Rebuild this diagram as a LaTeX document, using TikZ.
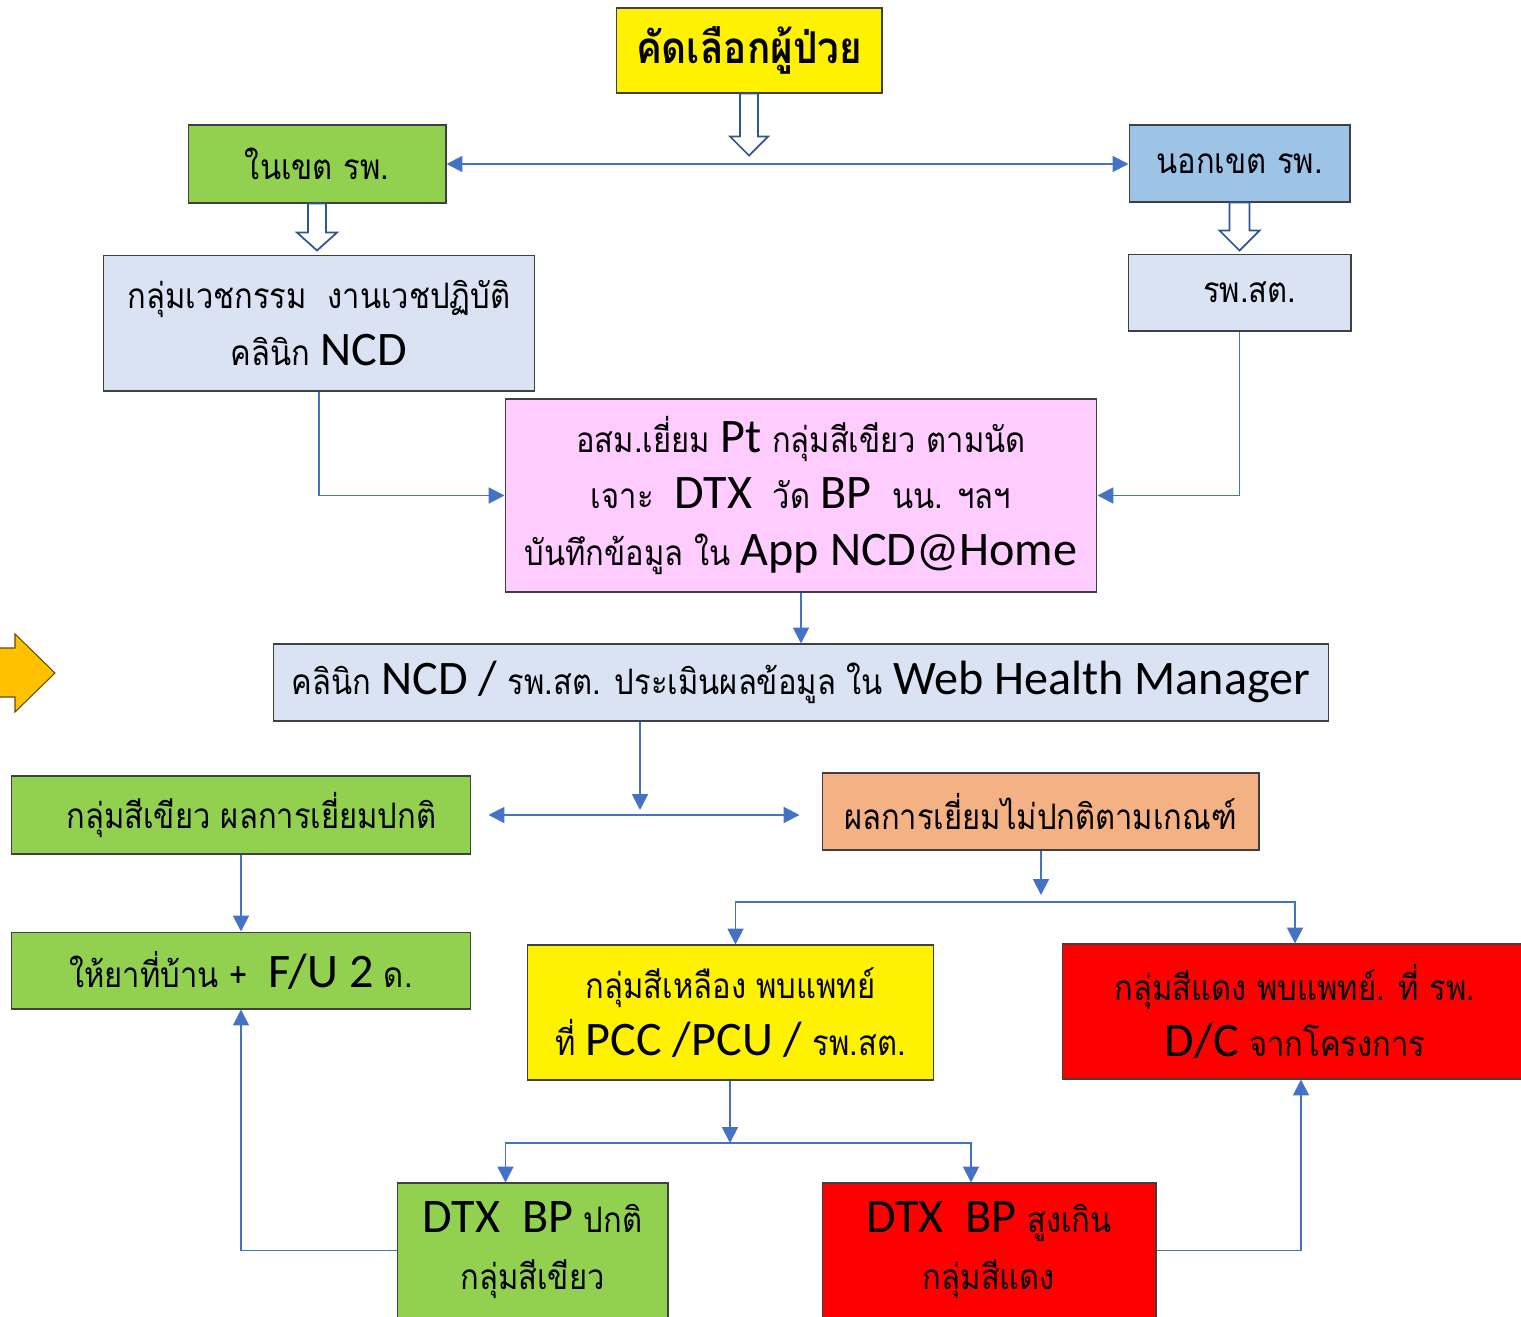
\documentclass[tikz,border=0pt]{standalone}
\usepackage{fontspec}
\setmainfont{Carlito}
\newfontfamily\thaifont[Script=Thai, FakeStretch=0.88]{Loma}
\usetikzlibrary{shapes, arrows.meta, positioning, calc}

\definecolor{cgreen}{HTML}{92D050}
\definecolor{csky}{HTML}{9DC3E6}
\definecolor{cpale}{HTML}{DAE3F3}
\definecolor{cpink}{HTML}{FFCCFF}
\definecolor{corange}{HTML}{F4B183}
\definecolor{cblue}{HTML}{4472C4}
\definecolor{cdblue}{HTML}{2F5597}
\definecolor{cgold}{HTML}{FFC000}

\newcommand\lat[1]{{\normalfont\fontsize{27.4}{32}\selectfont #1}}

\begin{document}
\begin{tikzpicture}[
    x=0.02cm, y=-0.02cm,
    box/.style={rectangle, draw=black!75, line width=0.6pt, align=center, inner sep=0pt, font=\thaifont\fontsize{20}{32.3}\selectfont},
    titlebox/.style={box, fill=yellow, font=\thaifont\bfseries\fontsize{25}{34}\selectfont},
    greenbox/.style={box, fill=cgreen},
    skybox/.style={box, fill=csky},
    palebox/.style={box, fill=cpale},
    pinkbox/.style={box, fill=cpink},
    orangebox/.style={box, fill=corange},
    yellowbox/.style={box, fill=yellow},
    redbox/.style={box, fill=red},
    arr/.style={draw=cblue, line width=1.1pt, -{Triangle[length=9pt,width=9pt]}},
    hollow/.style={draw=cdblue, line width=1pt, fill=white}
]
\useasboundingbox (0,0) rectangle (1521,1317);
\clip (0,0) rectangle (1521,1317);

% Top
\node[titlebox, minimum width=5.32cm, minimum height=1.7cm] (pick) at (749,50.5) {คัดเลือกผู้ป่วย};

% Level 1
\node[greenbox, minimum width=5.16cm, minimum height=1.56cm] (inzone) at (317,164) {ในเขต รพ.};
\node[skybox, minimum width=4.42cm, minimum height=1.54cm] (outzone) at (1239.5,163.5) {นอกเขต รพ.};

% Level 2
\node[palebox, minimum width=8.64cm, minimum height=2.72cm, below=1.02cm of inzone, xshift=0.04cm] (clinic) {กลุ่มเวชกรรม\ \ งานเวชปฏิบัติ\\คลินิก \lat{NCD}};
\node[palebox, minimum width=4.46cm, minimum height=1.54cm, below=1.02cm of outzone] (hosp) {\ \ รพ.สต.};

% Home visit
\node[pinkbox, minimum width=11.84cm, minimum height=3.86cm] (visit) at (801,495.5) {อสม.เยี่ยม \lat{Pt} กลุ่มสีเขียว ตามนัด\\เจาะ\ \ \lat{DTX}\ \ วัด \lat{BP}\ \ นน. ฯลฯ\\บันทึกข้อมูล ใน \lat{App NCD@Home}};
\node[palebox, minimum width=21.1cm, minimum height=1.54cm, below=1.02cm of visit] (assess) {คลินิก \lat{NCD /} รพ.สต. ประเมินผลข้อมูล ใน \lat{Web Health Manager}};

% Results
\node[greenbox, minimum width=9.2cm, minimum height=1.56cm] (normal) at (241,815) {\ \ กลุ่มสีเขียว ผลการเยี่ยมปกติ};
\node[orangebox, minimum width=8.74cm, minimum height=1.54cm] (abnormal) at (1040.5,811.5) {ผลการเยี่ยมไม่ปกติตามเกณฑ์};
\node[greenbox, minimum width=9.2cm, minimum height=1.54cm, below=1.54cm of normal] (home) {ให้ยาที่บ้าน +\ \ \lat{F/U 2} ด.};

% Groups
\node[yellowbox, minimum width=8.14cm, minimum height=2.7cm] (yellowgrp) at (730.5,1012.5) {กลุ่มสีเหลือง พบแพทย์\\ที่ \lat{PCC /PCU /} รพ.สต.};
\node[redbox, minimum width=9.32cm, minimum height=2.7cm] (redgrp) at (1295,1011.5) {กลุ่มสีแดง พบแพทย์. ที่ รพ.\\\lat{D/C} จากโครงการ};
\node[greenbox, minimum width=5.42cm, minimum height=2.7cm] (okgrp) at (532.5,1250.5) {\lat{DTX\ \ BP} ปกติ\\กลุ่มสีเขียว};
\node[redbox, minimum width=6.68cm, minimum height=2.7cm] (highgrp) at (989,1250.5) {\lat{DTX\ \ BP} สูงเกิน\\กลุ่มสีแดง};

% Forks
\coordinate (fork1) at (640,815);
\coordinate (fork2) at (1041,902);
\coordinate (fork3) at (730,1143);

% Side arrow
\draw[draw=black!60!cgold, fill=cgold, line width=0.6pt] (-5,648) -- (15,648) -- (15,634) -- (55,673) -- (15,712) -- (15,697) -- (-5,697) -- cycle;

% Draw lines
\draw[hollow] ($(pick.south)+(-9,0)$) -- ++(0,43) -- ++(-10,0) -- ++(19,19) -- ++(19,-19) -- ++(-10,0) -- ++(0,-43) -- cycle;
\draw[arr, {Triangle[length=9pt,width=9pt]}-{Triangle[length=9pt,width=9pt]}] (inzone.east) -- (outzone.west |- inzone.east);
\draw[hollow] ($(inzone.south)+(-9,0)$) -- ++(0,29) -- ++(-11,0) -- ++(20,18) -- ++(20,-18) -- ++(-11,0) -- ++(0,-29) -- cycle;
\draw[hollow] ($(outzone.south)+(-10,0)$) -- ++(0,28) -- ++(-10,0) -- ++(20,20) -- ++(20,-20) -- ++(-10,0) -- ++(0,-28) -- cycle;
\draw[arr] (clinic) |- (visit);
\draw[arr] (hosp) |- (visit);
\draw[arr] (visit.south) -- (visit.south |- assess.north);
\draw[arr, shorten >=0.1cm] (assess.south -| fork1) -- (fork1);
\draw[arr, shorten >=0.34cm] (fork1) -- (normal.east);
\draw[arr, shorten >=0.44cm] (fork1) -- (fork1 -| abnormal.west);
\draw[arr] (normal) -- (home);
\draw[arr, shorten >=0.14cm] (abnormal.south -| fork2) -- (fork2);
\draw[arr] (fork2) -| ($(yellowgrp.north)+(5,0)$);
\draw[arr] (fork2) -| (redgrp.north);
\draw[arr] (yellowgrp.south -| fork3) -- (fork3);
\draw[arr] (fork3) -| ($(okgrp.north)+(-27,0)$);
\draw[arr] (fork3) -| ($(highgrp.north)+(-18,0)$);
\draw[arr] (okgrp.west) -| (home.south);
\draw[arr] (highgrp.east) -| ($(redgrp.south)+(6,0)$);
\end{tikzpicture}
\end{document}
